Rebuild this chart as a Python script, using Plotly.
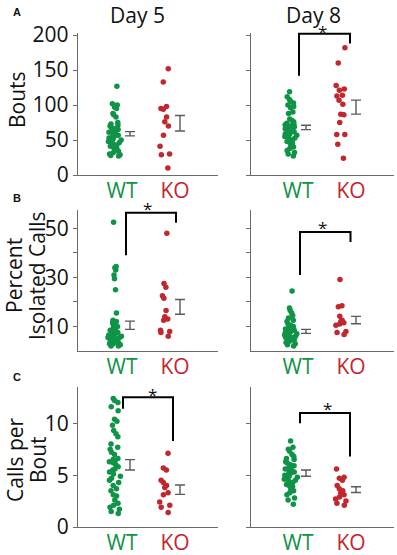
import plotly.graph_objects as go

W, H = 397, 555
GREEN = "#0f9447"
RED = "#c1272d"
GRAY = "#5a5a5a"
AXC = "#6a6a6a"
FONT = "Open Sans"
FS = 21

groups = ["WT", "KO"]
days = ["Day 5", "Day 8"]
row_titles = [["Bouts"], ["Percent", "Isolated Calls"], ["Calls per", "Bout"]]
panel_letters = ["A", "B", "C"]

# ---- data ----
bouts_d5_wt = [127, 102, 100, 97, 95, 88, 86, 83, 75, 73, 71, 70, 68, 66, 65, 63, 62, 61, 60, 58, 57,
               56, 55, 53, 52, 50, 49, 48, 46, 45, 43, 41, 40, 38, 36, 34, 32, 30, 29, 28, 27]
bouts_d5_ko = [152, 133, 98, 95, 94, 83, 76, 70, 57, 41, 29, 30, 10]
bouts_d8_wt = [119, 112, 108, 105, 103, 100, 98, 96, 90, 88, 80, 78, 76, 74, 73, 72, 71, 70, 69, 68,
               67, 66, 65, 64, 62, 61, 60, 59, 58, 57, 56, 55, 53, 52, 50, 48, 47, 45, 43, 40, 38,
               35, 32, 30, 27]
bouts_d8_ko = [182, 160, 128, 123, 121, 114, 113, 107, 101, 86, 87, 75, 58, 58, 44, 24]

iso_d5_wt = [52.5, 34.5, 34, 33, 31, 29.5, 25, 15.5, 12.5, 12, 11.5, 11, 10.5, 10, 9.5, 9, 8.5, 8, 8,
             7.5, 7, 7, 6.5, 6.5, 6, 6, 5.5, 5.5, 5, 5, 4.5, 4.5, 4, 4, 3.5, 3, 3, 2.5, 2, 2]
iso_d5_ko = [48, 27.5, 26, 22.5, 21.5, 16.5, 14, 13, 12.5, 8.5, 8, 7.5, 6]
iso_d8_wt = [24.5, 17.5, 16.5, 15.5, 14.5, 13.5, 12.5, 12, 11, 10.5, 10, 9.5, 9.5, 9, 9, 8.5, 8.5, 8,
             8, 7.5, 7, 7, 6.5, 6.5, 6, 6, 5.5, 5.5, 5, 5, 4.5, 4.5, 4, 3.5, 3, 2.5, 2]
iso_d8_ko = [29.2, 18.5, 18, 14.2, 12.5, 12, 11.5, 11, 10.5, 8, 7.5, 6.7]

cpb_d5_wt = [12.4, 12.2, 12.0, 11.6, 11.2, 10.4, 10.2, 9.8, 9.3, 9.0, 8.7, 8.0, 7.7, 7.5, 7.2, 7.0,
             6.6, 6.5, 6.4, 6.3, 6.2, 6.0, 5.8, 5.6, 5.5, 5.3, 5.1, 4.9, 4.7, 4.5, 4.3, 4.0, 3.7,
             3.5, 3.1, 3.0, 2.6, 2.3, 2.1, 1.9, 1.7, 1.5, 1.3]
cpb_d5_ko = [7.1, 5.7, 5.5, 4.5, 4.3, 4.0, 3.8, 3.3, 3.1, 2.4, 2.1, 1.9, 1.4]
cpb_d8_wt = [8.3, 7.7, 7.5, 7.3, 7.0, 6.8, 6.6, 6.5, 6.3, 6.2, 6.0, 5.9, 5.8, 5.7, 5.6, 5.5, 5.4,
             5.3, 5.2, 5.1, 5.0, 4.9, 4.8, 4.7, 4.6, 4.5, 4.4, 4.3, 4.1, 4.0, 3.9, 3.7, 3.5, 3.3,
             3.1, 2.8, 2.6, 2.2]
cpb_d8_ko = [5.6, 4.8, 4.7, 4.5, 4.0, 3.7, 3.5, 3.3, 3.1, 2.9, 2.7, 2.5, 2.3, 2.1]

# mean and SEM: [row][col] -> (WT, KO)
means = [[(59, 74), (68, 97)],
         [(10.5, 18), (8, 12.6)],
         [(6.0, 3.6), (5.2, 3.6)]]
sems = [[(3, 11), (3.2, 10)],
        [(1.7, 3), (0.8, 1.5)],
        [(0.5, 0.45), (0.3, 0.28)]]

data = [[(bouts_d5_wt, bouts_d5_ko), (bouts_d8_wt, bouts_d8_ko)],
        [(iso_d5_wt, iso_d5_ko), (iso_d8_wt, iso_d8_ko)],
        [(cpb_d5_wt, cpb_d5_ko), (cpb_d8_wt, cpb_d8_ko)]]

y_ticks = [[0, 50, 100, 150, 200], [10, 20, 30, 40, 50], [0, 5, 10]]
y_ticktext = [["0", "50", "100", "150", "200"], ["10", "", "30", "", "50"], ["0", "5", "10"]]
y_ranges = [[0, 203], [0, 57.5], [0, 13.5]]

# significance brackets: (row, col, x_left, x_right, y_top, y_left_end, y_right_end, star_x, star_y)
brackets = [(0, 1, 0.16, 1.18, 202, 142, 188, 0.62, 211),
            (1, 0, 0.22, 1.22, 56.4, 39, 52.3, 0.64, 59.8),
            (1, 1, 0.18, 1.19, 48.5, 31, 44.4, 0.62, 51.9),
            (2, 0, 0.16, 1.16, 12.5, 11.4, 8.3, 0.74, 13.2),
            (2, 1, 0.18, 1.18, 11.0, 10.0, 6.8, 0.73, 11.8)]

# ---- layout geometry (pixels) ----
XDOM = [(78, 218), (251, 394)]
YDOM = [(33, 175), (210, 351), (387, 527)]
X_RANGES = [[-0.74, 2.06], [-0.8, 2.06]]
DOT_POS = [0, 1]
ERR_OFF = 0.3
LABEL_POS = [0.14, 1.2]


def xpaper(v, c):
    a, b = XDOM[c]
    r0, r1 = X_RANGES[c]
    return (a + (v - r0) / (r1 - r0) * (b - a)) / W


def ypaper(v, r):
    top, bot = YDOM[r]
    r0, r1 = y_ranges[r]
    return 1 - (bot - (v - r0) / (r1 - r0) * (bot - top)) / H


fig = go.Figure()
layout = dict(width=W, height=H, margin=dict(l=0, r=0, t=0, b=0, autoexpand=False),
              paper_bgcolor="white", plot_bgcolor="white", showlegend=False,
              font=dict(family=FONT, size=FS, color="#111"))

colors = [GREEN, RED]
annotations = []
shapes = []
for r in range(3):
    for c in range(2):
        k = r * 2 + c + 1
        xa = "x" if k == 1 else f"x{k}"
        ya = "y" if k == 1 else f"y{k}"
        for g in range(2):
            vals = data[r][c][g]
            fig.add_trace(go.Box(
                y=vals, x0=DOT_POS[g], xaxis=xa, yaxis=ya,
                boxpoints="all", jitter=0.9 if g == 0 else 0.8, pointpos=0, width=0.32,
                fillcolor="rgba(0,0,0,0)", line=dict(width=0, color="rgba(0,0,0,0)"),
                whiskerwidth=0, marker=dict(color=colors[g], size=5.5), hoverinfo="skip"))
            fig.add_trace(go.Scatter(
                x=[DOT_POS[g] + ERR_OFF], y=[means[r][c][g]], xaxis=xa, yaxis=ya,
                mode="markers", marker=dict(size=1, color="rgba(0,0,0,0)"),
                error_y=dict(type="data", array=[sems[r][c][g]], color=GRAY, thickness=1.4, width=5),
                hoverinfo="skip"))
        xd = [XDOM[c][0] / W, XDOM[c][1] / W]
        yd = [1 - YDOM[r][1] / H, 1 - YDOM[r][0] / H]
        layout["xaxis" if k == 1 else f"xaxis{k}"] = dict(
            domain=xd, range=X_RANGES[c], anchor=ya, showline=True, linecolor=AXC, linewidth=1.3,
            showgrid=False, zeroline=False, tickvals=LABEL_POS, automargin=False,
            ticktext=[f'<span style="color:{GREEN}">WT</span>', f'<span style="color:{RED}">KO</span>'],
            ticks="", ticklabelstandoff=-3, tickfont=dict(size=FS, family=FONT))
        layout["yaxis" if k == 1 else f"yaxis{k}"] = dict(
            domain=yd, range=y_ranges[r], anchor=xa, showline=True, linecolor=AXC, linewidth=1.3,
            showgrid=False, zeroline=False, tickvals=y_ticks[r], ticktext=y_ticktext[r],
            ticks="outside", ticklen=4, tickcolor=AXC, tickwidth=1.2, automargin=False,
            showticklabels=(c == 0), tickfont=dict(size=FS, family=FONT, color="#111"))

# row titles (one annotation per line) and panel letters
title_y = [100, 276, 460]
title_x = [[17], [14, 37], [15, 38]]
letter_y = [12, 198, 377]
for r in range(3):
    for line, lx in zip(row_titles[r], title_x[r]):
        annotations.append(dict(text=line, xref="paper", yref="paper",
                                x=lx / W, y=1 - title_y[r] / H,
                                xanchor="center", yanchor="middle", textangle=-90, showarrow=False,
                                font=dict(size=FS, family=FONT, color="#111")))
    annotations.append(dict(text=f"<b>{panel_letters[r]}</b>", xref="paper", yref="paper",
                            x=17 / W, y=1 - letter_y[r] / H, xanchor="center", yanchor="middle",
                            showarrow=False, font=dict(size=11, family="Liberation Sans", color="#111")))
for c in range(2):
    annotations.append(dict(text=days[c], xref="paper", yref="paper",
                            x=(137 if c == 0 else 313) / W, y=1,
                            xanchor="center", yanchor="top", yshift=1, showarrow=False,
                            font=dict(size=FS, family=FONT, color="#111")))

for (r, c, xl, xr, yt, yl, yr, sx, sy) in brackets:
    path = (f"M {xpaper(xl, c)},{ypaper(yl, r)} L {xpaper(xl, c)},{ypaper(yt, r)} "
            f"L {xpaper(xr, c)},{ypaper(yt, r)} L {xpaper(xr, c)},{ypaper(yr, r)}")
    shapes.append(dict(type="path", path=path, xref="paper", yref="paper",
                       line=dict(color="black", width=2)))
    annotations.append(dict(text="*", xref="paper", yref="paper", x=xpaper(sx, c), y=ypaper(sy, r),
                            xanchor="center", yanchor="middle", yshift=-4, showarrow=False,
                            font=dict(size=17, family=FONT, color="#111")))

layout["annotations"] = annotations
layout["shapes"] = shapes
fig.update_layout(**layout)
fig.write_html("out.html", config={"displayModeBar": False},
               post_script="document.body.style.margin='0px';document.body.style.overflow='hidden';")
